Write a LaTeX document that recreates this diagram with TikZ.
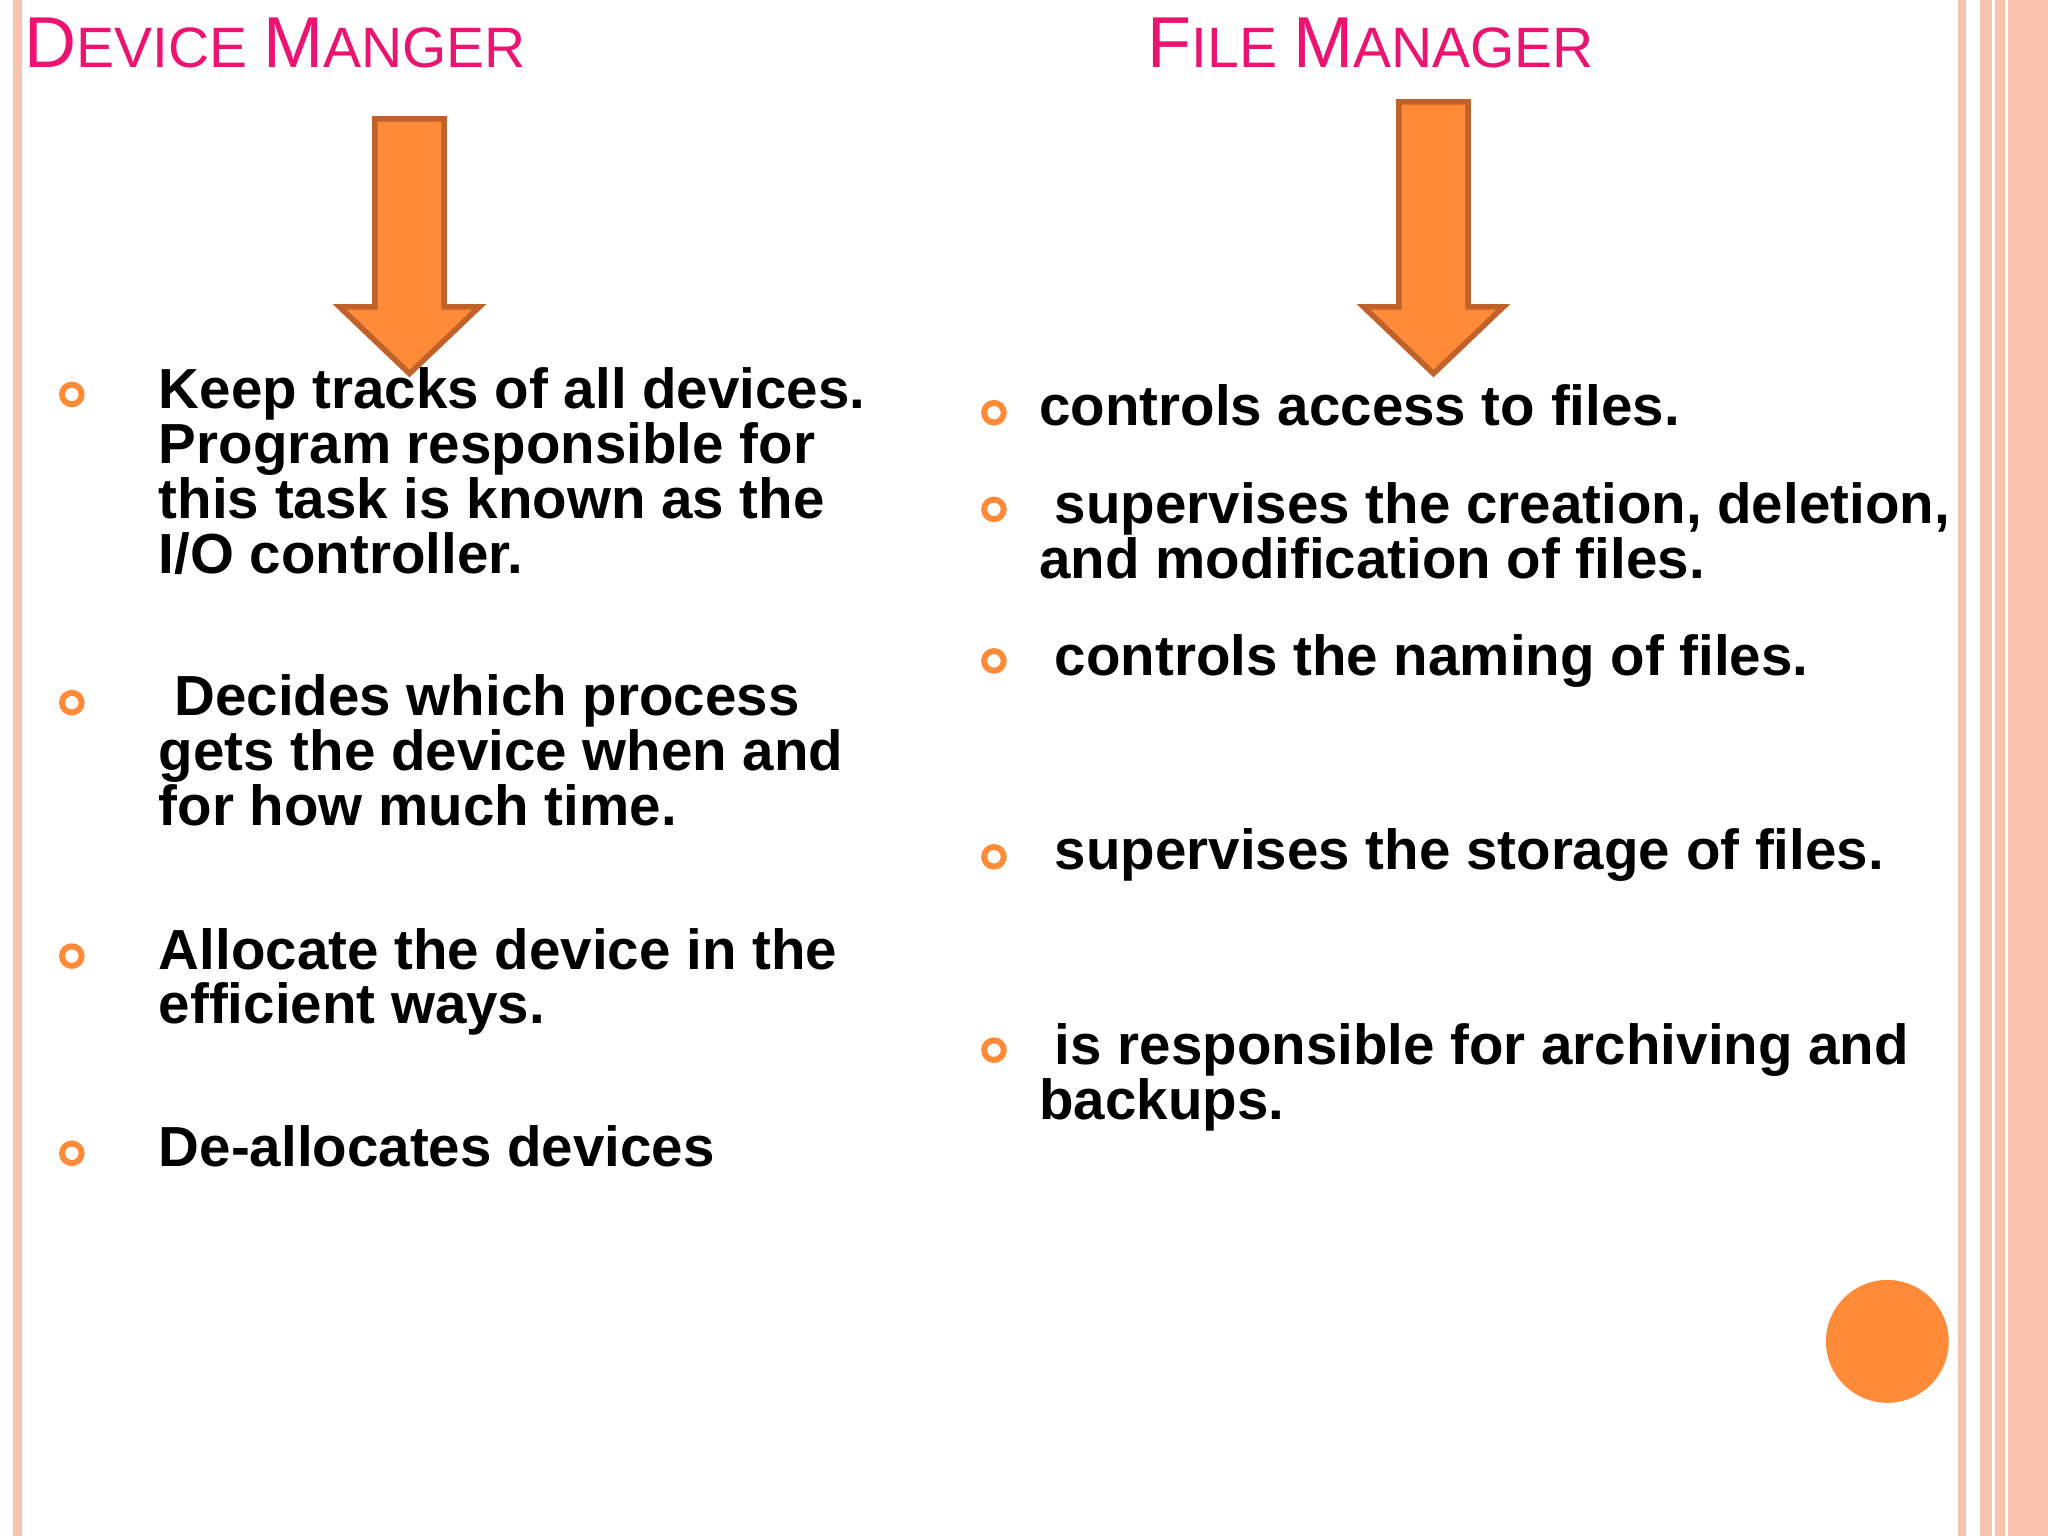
\documentclass[tikz,border=0pt]{standalone}
\usepackage{fontspec}
\setmainfont{Liberation Sans}
\definecolor{ttl}{HTML}{EC1470}
\definecolor{org}{HTML}{FF8A38}
\definecolor{orgd}{HTML}{C0622A}
\definecolor{pk}{HTML}{F9C3AE}
\begin{document}
\begin{tikzpicture}[x=0.01cm,y=-0.01cm,
  ln/.style={anchor=base west,inner sep=0,font=\fontsize{12.3}{14}\selectfont\bfseries},
  ttlnode/.style={anchor=base west,inner sep=0,text=ttl},
  bul/.style={draw=org,line width=1.3pt,circle,minimum size=0.15cm,inner sep=0},
  bigarrow/.style={fill=org,draw=orgd,line width=1.2pt}]
\useasboundingbox (0,0) rectangle (1568,1176);
\fill[white] (0,0) rectangle (1568,1176);
% borders
\fill[pk] (10,0) rectangle (17,1176);
\fill[pk] (1499,0) rectangle (1505,1176);
\fill[pk] (1516,0) rectangle (1568,1176);
\draw[white,line width=0.6pt] (1526,0) -- (1526,1176);
\draw[white,line width=0.6pt] (1536,0) -- (1536,1176);
% titles
\node[ttlnode] (t1) at (18,52) {\fontsize{15.7}{18}\selectfont D\fontsize{12.4}{15}\selectfont EVICE \fontsize{15.7}{18}\selectfont M\fontsize{12.4}{15}\selectfont ANGER};
\node[ttlnode] (t2) at (878,52) {\fontsize{15.7}{18}\selectfont F\fontsize{12.4}{15}\selectfont ILE \fontsize{15.7}{18}\selectfont M\fontsize{12.4}{15}\selectfont ANAGER};
% arrows
\draw[bigarrow] (287,91) -- (340,91) -- (340,235) -- (367,235) -- (313.5,286) -- (260,235) -- (287,235) -- cycle;
\draw[bigarrow] (1071,78) -- (1124,78) -- (1124,235) -- (1151,235) -- (1097.5,286) -- (1044,235) -- (1071,235) -- cycle;
% left bullets
\node[bul] (b1) at (55,302) {};
\node[ln] (l1a) at (121,313) {Keep tracks of all devices.};
\node[ln] (l1b) at (121,355) {Program responsible for};
\node[ln] (l1c) at (121,397) {this task is known as the};
\node[ln] (l1d) at (121,439) {I/O controller.};
\node[bul] (b2) at (55,538) {};
\node[ln] (l2a) at (121,548) {\ Decides which process};
\node[ln] (l2b) at (121,590) {gets the device when and};
\node[ln] (l2c) at (121,632) {for how much time.};
\node[bul] (b3) at (55,732) {};
\node[ln] (l3a) at (121,742) {Allocate the device in the};
\node[ln] (l3b) at (121,784) {efficient ways.};
\node[bul] (b4) at (55,883) {};
\node[ln] (l4a) at (121,893) {De-allocates devices};
% right bullets
\node[bul] (r1) at (761,316) {};
\node[ln] (q1a) at (795,326) {controls access to files.};
\node[bul] (r2) at (761,390) {};
\node[ln] (q2a) at (795,401) {\ supervises the creation, deletion,};
\node[ln] (q2b) at (795,443) {and modification of files.};
\node[bul] (r3) at (761,506) {};
\node[ln] (q3a) at (795,517) {\ controls the naming of files.};
\node[bul] (r4) at (761,656) {};
\node[ln] (q4a) at (795,666) {\ supervises the storage of files.};
\node[bul] (r5) at (761,804) {};
\node[ln] (q5a) at (795,815) {\ is responsible for archiving and};
\node[ln] (q5b) at (795,857) {backups.};
% circle
\fill[org] (1445,1027) circle (47);
\end{tikzpicture}
\end{document}
